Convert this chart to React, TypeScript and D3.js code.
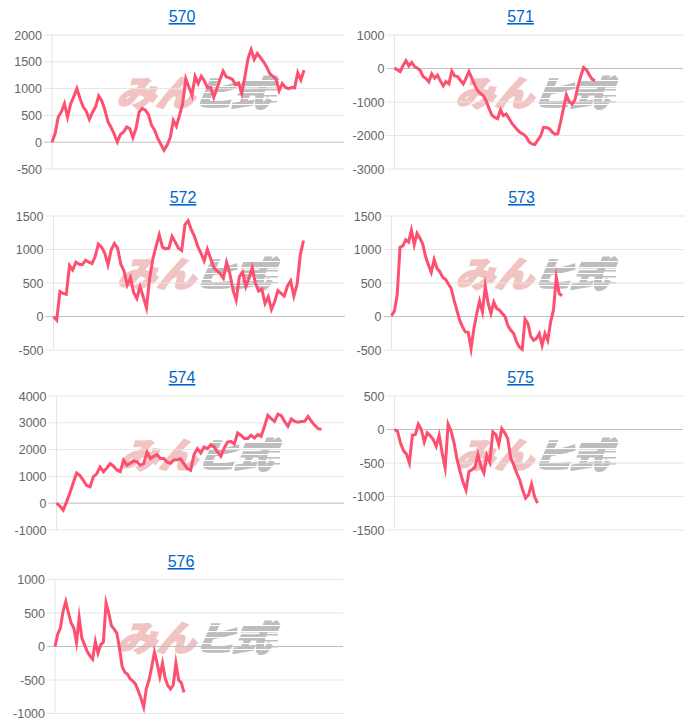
import React from "react";
import * as d3 from "d3";

const values570 = [0,160,470,565,720,470,720,850,1000,815,660,580,425,555,660,865,770,600,380,275,150,5,145,190,285,255,85,255,565,630,600,515,315,225,70,-40,-150,-55,85,410,300,505,720,1185,1030,875,1230,1095,1230,1140,1015,1020,835,1000,1170,1325,1220,1200,1170,1075,1105,910,1220,1560,1730,1545,1655,1580,1500,1405,1280,1230,1175,960,1095,1025,1000,1020,1015,1295,1160,1345];
const values571 = [10,-40,-90,90,230,80,180,60,10,-60,-240,-300,-400,-160,-290,-200,-370,-520,-390,-460,-80,-220,-240,-350,-460,-290,-90,-290,-490,-660,-740,-810,-970,-1190,-1390,-1460,-1500,-1240,-1410,-1360,-1490,-1640,-1740,-1840,-1920,-1960,-2040,-2190,-2250,-2270,-2140,-2020,-1760,-1760,-1790,-1890,-1960,-1950,-1590,-1190,-790,-990,-1060,-940,-540,-240,30,-40,-190,-320,-360];
const values572 = [-5,-55,370,345,330,760,695,810,780,775,840,810,790,895,1080,1035,945,770,995,1090,1020,780,680,470,580,360,270,445,295,130,570,860,1045,1220,1035,1010,1020,1195,1110,1020,985,1370,1430,1295,1195,1045,945,830,1005,870,735,680,640,570,810,645,395,245,595,660,445,570,730,495,380,410,195,295,105,220,385,345,305,455,530,305,480,920,1135];
const values573 = [10,80,320,1035,1055,1145,1110,1290,1070,1240,1170,1080,895,770,660,850,720,670,585,555,485,420,245,95,-55,-155,-230,-235,-480,-180,45,230,70,450,195,45,215,120,95,45,-5,-140,-205,-255,-380,-455,-490,-40,-105,-295,-355,-330,-255,-430,-255,-355,-80,95,580,345,310];
const values574 = [0,-110,-260,50,385,760,1130,1030,855,660,610,995,1095,1355,1170,1315,1480,1380,1240,1180,1600,1415,1490,1575,1540,1415,1480,1900,1665,1750,1815,1665,1665,1530,1490,1615,1625,1650,1465,1290,1230,1815,2035,1875,2100,2035,2185,2100,1915,1750,2060,2285,2310,2210,2620,2535,2410,2410,2535,2435,2560,2495,2870,3280,3155,3055,3320,3265,3055,2870,3140,3055,3020,3045,3055,3235,3055,2905,2780,2755];
const values575 = [0,-25,-200,-315,-365,-500,-85,-75,80,0,-185,-50,-95,-150,-250,-85,-350,-570,80,-25,-200,-450,-625,-785,-905,-625,-600,-565,-375,-550,-650,-385,-490,-35,-75,-225,15,-50,-135,-425,-525,-650,-750,-900,-1025,-975,-815,-1000,-1100];
const values576 = [0,185,275,525,670,500,350,275,60,430,125,25,-75,-140,-190,75,-100,25,65,650,500,310,260,200,-25,-300,-385,-415,-485,-515,-565,-665,-775,-905,-625,-500,-300,-85,-250,-450,-250,-475,-585,-635,-575,-250,-500,-540,-685];

const ticks570 = [-500,0,500,1000,1500,2000];
const ticks571 = [-3000,-2000,-1000,0,1000];
const ticks572 = [-500,0,500,1000,1500];
const ticks573 = [-500,0,500,1000,1500];
const ticks574 = [-1000,0,1000,2000,3000,4000];
const ticks575 = [-1500,-1000,-500,0,500];
const ticks576 = [-1000,-500,0,500,1000];

const panels = [
  { title: "570", values: values570, ticks: ticks570, left: 52, right: 344, top: 35, bottom: 169, end: 304, titleX: 182, titleY: 22, wmX: 117, wmY: 78 },
  { title: "571", values: values571, ticks: ticks571, left: 394.5, right: 683, top: 35, bottom: 169, end: 595, titleX: 520.5, titleY: 22, wmX: 456, wmY: 78 },
  { title: "572", values: values572, ticks: ticks572, left: 53.5, right: 345, top: 216, bottom: 350, end: 303.5, titleX: 183, titleY: 203, wmX: 118, wmY: 259 },
  { title: "573", values: values573, ticks: ticks573, left: 391.5, right: 684, top: 216, bottom: 350, end: 562, titleX: 521.5, titleY: 203, wmX: 456, wmY: 259 },
  { title: "574", values: values574, ticks: ticks574, left: 56.5, right: 344, top: 396, bottom: 530, end: 321.5, titleX: 182, titleY: 383, wmX: 120, wmY: 440 },
  { title: "575", values: values575, ticks: ticks575, left: 394.5, right: 683, top: 396, bottom: 530, end: 537.5, titleX: 520.5, titleY: 383, wmX: 456, wmY: 440 },
  { title: "576", values: values576, ticks: ticks576, left: 55, right: 343, top: 579.5, bottom: 713.5, end: 184, titleX: 181, titleY: 567, wmX: 118, wmY: 623 },
];

const FONT = "'Liberation Sans', Arial, sans-serif";
const stripeRows = d3.range(2, 30, 6);
const streakRows = [11, 17, 23];

function Watermark() {
  return (
    <defs>
      <mask id="wmStripes" maskUnits="userSpaceOnUse" x="0" y="-4" width="175" height="38">
        <rect x="0" y="-4" width="175" height="38" fill="white" />
        {stripeRows.map((r) => (
          <rect key={r} x="0" y={r} width="175" height="1" fill="black" />
        ))}
      </mask>
      <g id="wm">
        <text
          transform="translate(-1,28) skewX(-18) scale(1.12,1)"
          fontFamily="'Noto Sans CJK JP', sans-serif"
          fontWeight="900"
          fontSize="35"
          fill="#f1c3c3"
          stroke="#f1c3c3"
          strokeWidth="1.6"
        >
          みん
        </text>
        <g mask="url(#wmStripes)" fill="#bdbdbd" stroke="#bdbdbd" strokeWidth="1.4" fontFamily="'Noto Sans CJK JP', sans-serif" fontWeight="900">
          <text transform="translate(74,28) skewX(-24) scale(1.25,1)" fontSize="34">ヒ</text>
          <text transform="translate(113,28) skewX(-24) scale(1.12,1)" fontSize="35">式</text>
          {streakRows.map((r) => (
            <rect key={r} x={138} y={r} width={22} height={1.5} strokeWidth={0} />
          ))}
        </g>
      </g>
    </defs>
  );
}

function Panel({ p }: { p: (typeof panels)[number] }) {
  const y = d3.scaleLinear().domain(d3.extent(p.ticks) as [number, number]).range([p.bottom, p.top]);
  const x = d3.scaleLinear().domain([0, p.values.length - 1]).range([p.left, p.end]);
  const line = d3
    .line<number>()
    .x((_, i) => x(i))
    .y((v) => y(v));
  return (
    <g>
      <use href="#wm" x={p.wmX} y={p.wmY} />
      <text
        x={p.titleX}
        y={p.titleY}
        textAnchor="middle"
        fontFamily={FONT}
        fontSize={16}
        fill="#0066cc"
        textDecoration="underline"
      >
        {p.title}
      </text>
      <line x1={p.left} x2={p.left} y1={p.top} y2={p.bottom} stroke="#e5e5e5" />
      {p.ticks.map((t) => (
        <g key={t}>
          <line
            x1={p.left - 8}
            x2={p.right}
            y1={y(t)}
            y2={y(t)}
            stroke={t === 0 ? "#bfbfbf" : "#e5e5e5"}
          />
          <text
            x={p.left - 10}
            y={y(t) + 4.5}
            textAnchor="end"
            fontFamily={FONT}
            fontSize={12.5}
            fill="#666"
          >
            {t}
          </text>
        </g>
      ))}
      <path
        d={line(p.values) ?? ""}
        fill="none"
        stroke="#fd4f6f"
        strokeWidth={3}
        strokeLinejoin="miter"
        strokeMiterlimit={10}
      />
    </g>
  );
}

export default function App() {
  return (
    <svg
      width={700}
      height={728}
      viewBox="0 0 700 728"
      style={{ position: "absolute", left: 0, top: 0, display: "block", background: "#fff" }}
    >
      <Watermark />
      {panels.map((p) => (
        <Panel key={p.title} p={p} />
      ))}
    </svg>
  );
}
